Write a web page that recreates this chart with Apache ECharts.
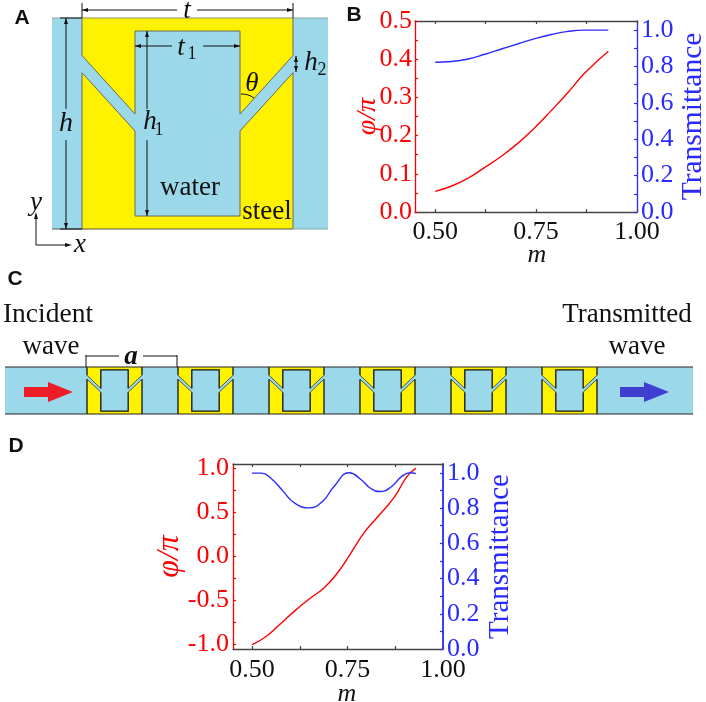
<!DOCTYPE html>
<html><head><meta charset="utf-8">
<style>html,body{margin:0;padding:0;background:#fff}#c{width:706px;height:702px}</style>
<script src="https://cdn.jsdelivr.net/npm/echarts@6/dist/echarts.min.js"></script>
</head><body><div id="c"></div>
<script>
// Panel B
const mB      = [0.5,0.541,0.582,0.623,0.664,0.706,0.747,0.788,0.829,0.87,0.929];
const phaseB  = [0.054,0.068,0.089,0.117,0.146,0.181,0.221,0.266,0.313,0.363,0.421];
const transBm = [0.5,0.541,0.582,0.623,0.664,0.706,0.747,0.788,0.829,0.87,0.929];
const transB  = [0.823,0.827,0.841,0.867,0.896,0.925,0.953,0.976,0.993,1.0,1.0];
// Panel D
const mDphase = [0.5,0.533,0.568,0.611,0.654,0.689,0.724,0.759,0.793,0.828,0.872,0.906,0.929];
const phaseD  = [-1.0,-0.92,-0.79,-0.62,-0.468,-0.355,-0.185,0.04,0.268,0.445,0.672,0.91,1.0];
const mDtrans = [0.5,0.524,0.55,0.581,0.611,0.65,0.685,0.715,0.754,0.785,0.811,0.835,0.863,0.893,0.915,0.929];
const transD  = [0.998,0.998,0.968,0.896,0.829,0.801,0.839,0.924,1.0,0.962,0.911,0.894,0.918,0.981,1.0,0.995];
// Tick labels and tick marks
const xLabels   = [0.5,0.75,1.0];
const xTicks    = [0.5,0.625,0.75,0.875,1.0];
const phaseBLab = [0,0.1,0.2,0.3,0.4,0.5];
const phaseBTik = [0,0.05,0.1,0.15,0.2,0.25,0.3,0.35,0.4,0.45,0.5];
const phaseDLab = [-1,-0.5,0,0.5,1];
const phaseDTik = [-1,-0.75,-0.5,-0.25,0,0.25,0.5,0.75,1];
const transLab  = [0,0.2,0.4,0.6,0.8,1.0];
const transTik  = [0,0.1,0.2,0.3,0.4,0.5,0.6,0.7,0.8,0.9,1.0];

const SERIF = '"Liberation Serif","Times New Roman",serif';
const RED = '#ff0000', BLUE = '#2a2aff', DARK = '#444444', BLACK = '#111111';
const WATER = '#9bd8ea', STEEL = '#fff200';

function zip(a,b){return a.map((v,i)=>[v,b[i]]);}

function xAxisFor(grid, pos, margin, gap, pad){
  return {type:'value',gridIndex:grid,position:pos,min:0.45,max:1.0,interval:0.05,
    axisLine:{show:true,onZero:false,lineStyle:{color:DARK,width:1.3}},
    axisTick:{show:true,inside:true,length:3,customValues:xTicks,lineStyle:{color:DARK,width:1.2}},
    axisLabel:pos==='bottom'
      ?{show:true,customValues:xLabels,color:BLACK,fontFamily:SERIF,fontSize:26,margin,formatter:v=>v.toFixed(2)}
      :{show:false},
    splitLine:{show:false},
    ...(pos==='bottom'?{name:'m',nameLocation:'middle',nameGap:gap,nameMoveOverlap:false,
      nameTextStyle:{color:BLACK,fontFamily:SERIF,fontStyle:'italic',fontSize:26,padding:[0,0,0,pad]}}:{})};
}
function yAxisFor(grid,pos,min,max,labs,ticks,color,name,gap,nameSize,lineW,margin){
  return {type:'value',gridIndex:grid,position:pos,min,max,
    axisLine:{show:true,onZero:false,lineStyle:{color,width:lineW}},
    axisTick:{show:true,inside:true,length:3,customValues:ticks,lineStyle:{color,width:1.2}},
    axisLabel:{show:true,customValues:labs,color,fontFamily:SERIF,fontSize:26,margin,formatter:v=>v.toFixed(1)},
    splitLine:{show:false},
    name,nameLocation:'middle',nameGap:gap,nameRotate:90,nameMoveOverlap:false,
    nameTextStyle:{color,fontFamily:SERIF,fontSize:nameSize,fontStyle:name==='Transmittance'?'normal':'italic'}};
}
function line(xi,yi,data,color){
  return {type:'line',xAxisIndex:xi,yAxisIndex:yi,data,smooth:0.5,showSymbol:false,symbol:'none',
    lineStyle:{color,width:1.4},clip:false,silent:true};
}

// ---- schematic helpers (panels A and C are drawings, no data) ----
const g = [];
function rect(x,y,w,h,fill){g.push({type:'rect',shape:{x,y,width:w,height:h},style:{fill},silent:true});}
function poly(points,fill){g.push({type:'polygon',shape:{points},style:{fill},silent:true});}
function pline(points,stroke,w){g.push({type:'polyline',shape:{points},style:{stroke,lineWidth:w,fill:null},silent:true});}
function text(s,x,y,size,o={}){
  g.push({type:'text',x,y,silent:true,style:{text:s,x:0,y:0,fill:o.color||BLACK,
    font:(o.style||'normal')+' '+(o.weight||'normal')+' '+size+'px '+(o.family||SERIF),
    textAlign:o.align||'center',textVerticalAlign:'middle'}});
}
function hDim(x0,x1,y,gapA,gapB,c=BLACK){
  pline([[x0,y],[gapA,y]],c,1);pline([[gapB,y],[x1,y]],c,1);
  poly([[x0,y],[x0+6,y-2],[x0+6,y+2]],c);poly([[x1,y],[x1-6,y-2],[x1-6,y+2]],c);
}
function vDim(x,y0,y1,gapA,gapB,c=BLACK){
  pline([[x,y0],[x,gapA]],c,1);pline([[x,gapB],[x,y1]],c,1);
  poly([[x,y0],[x-2,y0+6],[x+2,y0+6]],c);poly([[x,y1],[x-2,y1-6],[x+2,y1-6]],c);
}
// unit cell in a 211 x 211 frame
const cellFill = [[0,37.5],[53,96],[53,13],[158,13],[158,96],[211,37.5],[211,54.7],[158,113],[158,198],[53,198],[53,113],[0,54.7]];
const cavity   = [[53,96],[53,13],[158,13],[158,96]];
const cavityLo = [[53,113],[53,198],[158,198],[158,113]];
const chanTop  = [[[0,37.5],[53,96]],[[158,96],[211,37.5]]];
const chanBot  = [[[0,54.7],[53,113]],[[158,113],[211,54.7]]];
function cell(x0,y0,w,h,stroke,lw,chanColor,chanW){
  const f=p=>[x0+p[0]*w/211,y0+p[1]*h/211];
  rect(x0,y0,w,h,STEEL);
  poly(cellFill.map(f),WATER);
  pline(cavity.map(f),stroke,lw);
  pline(cavityLo.map(f),stroke,lw);
  chanTop.concat(chanBot).forEach(s=>pline(s.map(f),chanColor,chanW));
  pline([[0,0],[0,37.5]].map(f),stroke,lw);pline([[211,0],[211,37.5]].map(f),stroke,lw);
  pline([[0,54.7],[0,211]].map(f),stroke,lw);pline([[211,54.7],[211,211]].map(f),stroke,lw);
}
function arrow(x0,xh,x1,y,color){
  poly([[x0,y-5],[xh,y-5],[xh,y-10],[x1,y],[xh,y+10],[xh,y+5],[x0,y+5]],color);
}

// Panel letters
const SANS='"Liberation Sans",Arial,sans-serif';
text('A',22,18,21,{weight:'bold',family:SANS});
text('B',354,15,21,{weight:'bold',family:SANS});
text('C',15,279,21,{weight:'bold',family:SANS});
text('D',16,446,21,{weight:'bold',family:SANS});

// Panel A
rect(52,18,276,211,WATER);
cell(82,18,211,211,'#6a6a55',1,'#6a6a55',1);
pline([[52,18],[82,18]],'#8aa',1);pline([[293,18],[328,18]],'#8aa',1);
pline([[82,18],[293,18]],'#8a8a60',1);pline([[82,229],[293,229]],'#555',1);
pline([[52,229],[82,229]],'#555',1);pline([[293,229],[328,229]],'#8aa',1);
pline([[82,3],[82,18]],BLACK,1);pline([[293,3],[293,18]],BLACK,1);
hDim(82,293,10,177,197);
text('t',187,11,27,{style:'italic'});
pline([[60,18],[82,18]],BLACK,1);pline([[60,229],[82,229]],BLACK,1);
vDim(66,18,229,109,140);
text('h',66,124,28,{style:'italic'});
hDim(135,240,46,172,203);
text('t',181,48,27,{style:'italic'});text('1',192,54,18);
vDim(147,31,216,109,140);
text('h',150,122,27,{style:'italic'});text('1',159,130,18);
vDim(296,56,72,64,64);
text('h',311,63,27,{style:'italic'});text('2',322,70,18);
text('θ',252,84,27,{style:'italic'});
g.push({type:'bezierCurve',shape:{x1:241,y1:94,x2:254,y2:98,cpx1:246,cpy1:94,cpx2:250,cpy2:95},style:{stroke:BLACK,lineWidth:1,fill:null},silent:true});
text('water',190,188,27);
text('steel',267,212,27);
pline([[36,215],[36,245],[68,245]],BLACK,1);
poly([[36,212],[34,219],[38,219]],BLACK);poly([[72,245],[65,243],[65,247]],BLACK);
text('y',36,203,27,{style:'italic'});
text('x',80,245,27,{style:'italic'});

// Panel C
rect(5,367,688,47,WATER);
const cellStarts=[87,178,269,360,451,542];
cellStarts.forEach(x=>cell(x,367,55,47,BLACK,1.3,'#333',0.8));
pline([[5,367],[693,367]],'#222',1.2);pline([[5,414],[693,414]],'#222',1.2);
arrow(24,48,73,392,'#ee1c25');
arrow(620,644,669,392,'#3f3fd0');
text('Incident',48,315,27.5);
text('wave',51,347,27);
text('Transmitted',627,315,27);
text('wave',637,347,27);
pline([[86,356],[119,356]],BLACK,1);pline([[143,356],[177,356]],BLACK,1);
pline([[86,355],[86,367]],BLACK,1);pline([[177,355],[177,367]],BLACK,1);
text('a',131,357,27,{style:'italic',weight:'bold'});

const option={
  animation:false,backgroundColor:'#fff',
  grid:[{left:415,top:21,width:222,height:191,outerBoundsMode:'none'},
        {left:233,top:464,width:210,height:185,outerBoundsMode:'none'}],
  xAxis:[xAxisFor(0,'bottom',7,30,22),xAxisFor(0,'top'),xAxisFor(1,'bottom',8,32,18),xAxisFor(1,'top')],
  yAxis:[
    yAxisFor(0,'left',0,0.5,phaseBLab,phaseBTik,RED,'φ/π',33,28,1.3,3),
    yAxisFor(0,'right',0,1.05,transLab,transTik,BLUE,'Transmittance',41,29.5,1.3,4),
    yAxisFor(1,'left',-1.05,1.05,phaseDLab,phaseDTik,RED,'φ/π',47,32,1.3,4),
    yAxisFor(1,'right',0,1.05,transLab,transTik,BLUE,'Transmittance',43,29,1.8,4)
  ],
  series:[
    line(0,0,zip(mB,phaseB),RED),
    line(0,1,zip(transBm,transB),BLUE),
    line(2,2,zip(mDphase,phaseD),RED),
    line(2,3,zip(mDtrans,transD),BLUE)
  ],
  graphic:{elements:g}
};
echarts.init(document.getElementById('c'),null,{renderer:'canvas'}).setOption(option);
</script></body></html>
